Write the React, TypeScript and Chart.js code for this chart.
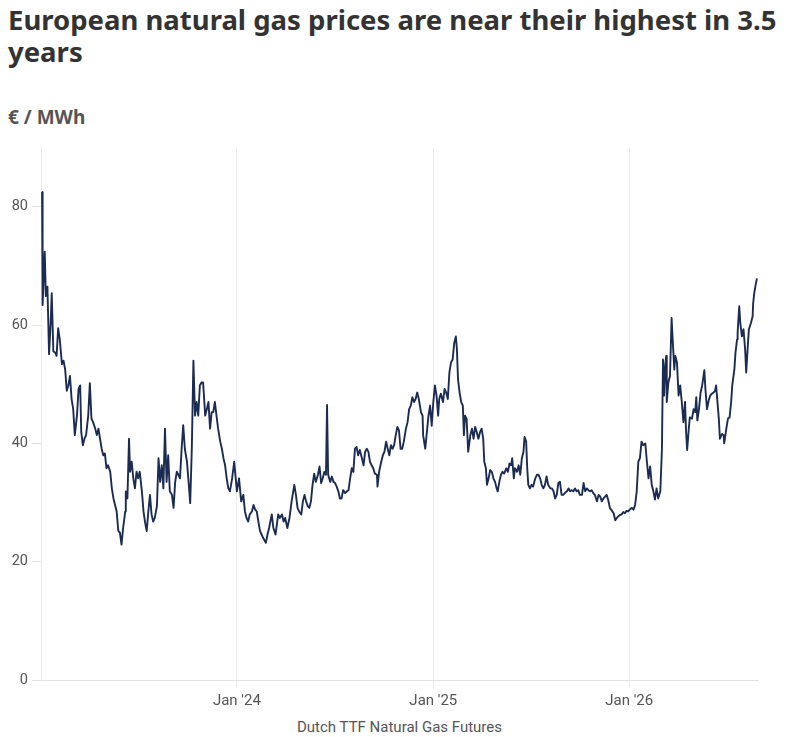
import React, { useEffect, useRef } from "react";
import { Chart, registerables } from "chart.js";

Chart.register(...registerables);

const TITLE_LINE_1 = "European natural gas prices are near their highest in 3.5";
const TITLE_LINE_2 = "years";
const UNIT_LABEL = "€ / MWh";
const SOURCE_LABEL = "Dutch TTF Natural Gas Futures";

const START_DATE = "2023-01-01";
const X_MAX_DAY = 1336;

// days since START_DATE
const dayOffsets = [
  2, 3, 7, 9, 12, 15, 18, 20, 23, 27, 29, 32, 35, 39, 42, 45, 48, 51, 54, 57,
  60, 63, 67, 70, 73, 75, 78, 81, 84, 88, 91, 94, 97, 101, 104, 107, 110, 113, 116, 119,
  122, 125, 129, 132, 135, 138, 141, 144, 147, 150, 153, 157, 158, 161, 164, 166, 169, 172, 175, 178,
  181, 184, 188, 191, 194, 197, 200, 203, 206, 209, 212, 216, 219, 222, 225, 228, 231, 234, 237, 240,
  244, 247, 250, 253, 256, 259, 262, 265, 268, 272, 275, 278, 281, 284, 287, 290, 293, 296, 299, 302,
  306, 309, 312, 315, 318, 321, 324, 327, 330, 334, 337, 340, 343, 346, 349, 352, 356, 360, 365, 369,
  373, 377, 380, 383, 386, 389, 393, 396, 399, 402, 405, 408, 411, 414, 419, 422, 425, 430, 433, 437,
  442, 445, 449, 452, 455, 459, 463, 467, 472, 475, 478, 481, 485, 488, 491, 494, 497, 500, 503, 506,
  509, 512, 516, 519, 522, 525, 528, 531, 533, 535, 539, 542, 545, 548, 551, 554, 557, 560, 563, 567,
  570, 573, 576, 579, 582, 585, 588, 591, 594, 598, 601, 604, 607, 610, 613, 616, 619, 622, 626, 627,
  630, 634, 637, 640, 643, 646, 649, 652, 655, 658, 661, 664, 667, 670, 673, 676, 680, 683, 686, 689,
  692, 695, 698, 701, 704, 708, 711, 712, 716, 719, 722, 725, 728, 731, 734, 737, 740, 742, 745, 749,
  752, 755, 758, 761, 764, 767, 770, 773, 775, 777, 780, 783, 786, 788, 790, 793, 796, 800, 803, 806,
  809, 812, 815, 818, 821, 824, 826, 829, 831, 834, 837, 840, 843, 846, 849, 851, 854, 857, 860, 863,
  867, 870, 873, 876, 878, 881, 883, 887, 890, 893, 896, 899, 901, 904, 906, 908, 911, 914, 917, 921,
  924, 927, 930, 933, 936, 939, 942, 945, 949, 952, 955, 958, 961, 964, 967, 970, 973, 976, 980, 983,
  986, 989, 992, 995, 998, 1001, 1004, 1008, 1011, 1014, 1017, 1020, 1023, 1026, 1029, 1032, 1036, 1039, 1042, 1045,
  1048, 1051, 1054, 1057, 1060, 1064, 1067, 1070, 1073, 1076, 1079, 1082, 1085, 1088, 1091, 1094, 1098, 1101, 1104, 1107,
  1110, 1113, 1116, 1119, 1122, 1126, 1129, 1132, 1135, 1138, 1141, 1144, 1147, 1150, 1154, 1157, 1159, 1161, 1163, 1165,
  1166, 1169, 1172, 1175, 1177, 1180, 1182, 1185, 1188, 1191, 1194, 1197, 1200, 1202, 1204, 1207, 1209, 1213, 1216, 1219,
  1221, 1223, 1226, 1229, 1232, 1236, 1238, 1241, 1244, 1247, 1250, 1253, 1256, 1258, 1260, 1263, 1265, 1269, 1272, 1273,
  1277, 1280, 1283, 1286, 1288, 1292, 1294, 1297, 1298, 1301, 1303, 1306, 1309, 1312, 1314, 1317, 1319, 1323, 1326, 1327,
  1329, 1331, 1334,
];

// € / MWh
const prices = [
  82.5, 63.4, 72.4, 64.9, 66.5, 55.1, 60.4, 65.4, 55.6, 55.3, 54.8, 59.5, 57.6, 53.4, 54.0, 52.5, 48.9, 49.8, 51.4, 47.5,
  45.8, 41.4, 44.7, 49.2, 49.8, 41.9, 39.7, 40.8, 41.4, 44.7, 50.2, 44.2, 43.6, 42.5, 41.4, 42.5, 40.8, 39.1, 38.0, 38.3,
  35.8, 36.3, 35.2, 32.4, 30.7, 29.6, 28.5, 25.2, 24.9, 22.9, 25.7, 28.5, 31.9, 30.7, 40.8, 35.2, 36.9, 34.1, 32.4, 35.2,
  34.1, 35.2, 31.9, 28.5, 26.6, 25.2, 28.5, 31.3, 28.0, 26.8, 27.4, 29.4, 37.5, 33.5, 36.3, 32.4, 42.5, 33.5, 38.0, 31.9,
  31.3, 29.1, 33.5, 35.2, 34.7, 34.1, 39.1, 43.1, 39.1, 36.9, 33.5, 29.9, 39.1, 54.0, 44.7, 47.0, 44.7, 49.8, 50.3, 50.3,
  44.7, 45.8, 47.0, 42.5, 45.3, 45.3, 47.0, 44.7, 42.5, 40.3, 39.1, 37.5, 36.3, 34.1, 32.4, 31.9, 34.0, 36.9, 31.9, 34.1,
  30.2, 31.3, 28.5, 27.4, 26.8, 28.0, 28.5, 29.6, 28.8, 28.5, 26.8, 25.2, 24.6, 24.0, 23.2, 24.6, 25.7, 28.0, 25.7, 24.6,
  28.0, 27.4, 28.0, 26.8, 27.4, 25.7, 27.4, 30.2, 33.0, 31.3, 29.1, 28.5, 28.0, 30.2, 31.3, 30.2, 29.4, 29.1, 30.2, 33.0,
  34.9, 33.5, 34.7, 36.1, 33.3, 34.1, 35.2, 34.7, 46.5, 34.7, 33.5, 34.4, 33.5, 33.3, 32.7, 31.9, 30.7, 30.7, 32.1, 31.6,
  31.9, 32.1, 34.1, 35.8, 35.2, 39.1, 39.4, 38.0, 38.9, 37.5, 36.3, 38.6, 39.1, 38.6, 36.9, 36.3, 35.8, 34.9, 34.7, 32.7,
  35.2, 36.9, 38.0, 38.6, 40.3, 39.1, 38.0, 39.7, 39.1, 39.7, 41.4, 42.8, 42.2, 39.1, 39.1, 40.3, 42.5, 43.6, 45.8, 46.4,
  47.8, 47.0, 47.5, 48.6, 47.5, 45.3, 44.7, 41.4, 39.1, 41.9, 44.7, 46.4, 43.0, 47.0, 49.8, 48.1, 44.7, 47.5, 48.4, 47.0,
  49.2, 48.6, 47.5, 52.0, 53.7, 54.2, 57.0, 58.1, 55.9, 50.9, 48.6, 47.0, 46.4, 41.4, 44.7, 44.2, 38.6, 41.4, 42.5, 40.8,
  42.8, 41.9, 40.8, 41.9, 42.5, 40.8, 36.9, 35.8, 33.0, 34.1, 35.5, 35.2, 34.1, 33.5, 32.4, 31.9, 33.5, 34.7, 35.2, 34.9,
  35.8, 35.2, 36.6, 36.3, 37.5, 34.1, 35.8, 35.2, 36.3, 34.7, 37.5, 38.6, 41.1, 40.3, 35.8, 33.0, 32.4, 33.0, 32.7, 34.1,
  34.7, 34.7, 34.1, 33.0, 32.4, 33.0, 34.4, 33.0, 32.4, 32.4, 31.9, 30.7, 31.3, 33.3, 33.5, 31.3, 31.3, 31.6, 31.9, 32.4,
  31.9, 32.1, 31.9, 32.4, 31.9, 32.1, 31.3, 31.3, 33.3, 31.9, 32.4, 32.1, 31.9, 32.1, 31.6, 31.3, 30.2, 31.3, 31.0, 30.2,
  30.7, 31.0, 31.3, 30.4, 29.1, 28.6, 28.2, 27.0, 27.4, 27.7, 27.9, 28.0, 28.4, 28.2, 28.6, 28.5, 28.9, 29.1, 28.8, 29.6,
  31.9, 36.9, 37.5, 40.3, 39.7, 40.0, 36.9, 34.1, 36.1, 33.0, 31.9, 30.5, 32.4, 30.7, 31.9, 39.1, 54.2, 48.1, 53.1, 54.8,
  47.0, 50.3, 51.4, 61.2, 57.6, 52.5, 54.8, 53.7, 48.1, 49.8, 47.0, 43.6, 47.0, 41.9, 38.9, 42.5, 44.4, 44.2, 45.8, 45.3,
  47.8, 43.9, 45.8, 48.6, 49.8, 52.4, 49.2, 45.8, 47.2, 48.1, 48.4, 48.6, 48.9, 49.8, 47.5, 44.2, 40.8, 41.6, 41.4, 40.0,
  42.5, 44.2, 44.4, 47.0, 49.8, 52.5, 55.3, 57.6, 58.7, 63.2, 60.4, 58.1, 59.3, 55.9, 52.0, 56.5, 59.3, 60.4, 61.5, 63.7,
  65.4, 66.5, 67.9,
];

const Y_MAX = 90;
const yTickValues = [0, 20, 40, 60, 80];
const xTickYears = [2024, 2025, 2026];
const xTickLabels = ["Jan '24", "Jan '25", "Jan '26"];

const LINE_COLOR = "#1b2b52";
const AXIS_TEXT = "#555555";

export default function App() {
  const canvasRef = useRef<HTMLCanvasElement | null>(null);

  useEffect(() => {
    const canvas = canvasRef.current;
    if (!canvas) return;
    const startMs = Date.parse(START_DATE);
    const tickDays = xTickYears.map((y) => Math.round((Date.UTC(y, 0, 1) - startMs) / 86400000));
    const points = dayOffsets.map((d, i) => ({ x: d, y: prices[i] }));

    const chart = new Chart(canvas, {
      type: "line",
      data: {
        datasets: [
          {
            data: points,
            borderColor: LINE_COLOR,
            borderWidth: 1.9,
            pointRadius: 0,
            tension: 0,
            fill: false,
            borderJoinStyle: "round",
          },
        ],
      },
      options: {
        animation: false,
        responsive: false,
        layout: { padding: { top: 10, right: 34, bottom: 0, left: 0 } },
        plugins: { legend: { display: false }, tooltip: { enabled: false } },
        scales: {
          x: {
            type: "linear",
            min: 0,
            max: X_MAX_DAY,
            afterBuildTicks: (s: any) => {
              s.ticks = tickDays.map((v) => ({ value: v }));
            },
            afterFit: (s: any) => {
              s.height = 35;
            },
            ticks: {
              autoSkip: false,
              maxRotation: 0,
              padding: 4,
              color: AXIS_TEXT,
              font: { family: "Roboto", size: 15 },
              callback: (v: any) => {
                const i = tickDays.indexOf(Number(v));
                return i >= 0 ? xTickLabels[i] : "";
              },
            },
            grid: { drawOnChartArea: true, drawTicks: true, tickLength: 8, color: "#ebebeb", lineWidth: 1 },
            border: { display: true, color: "#e2e2e2", width: 1 },
          },
          y: {
            min: 0,
            max: Y_MAX,
            afterBuildTicks: (s: any) => {
              s.ticks = yTickValues.map((v) => ({ value: v }));
            },
            afterFit: (s: any) => {
              s.width = 33;
            },
            ticks: {
              padding: 4,
              color: AXIS_TEXT,
              font: { family: "Roboto", size: 14.5 },
            },
            grid: { drawOnChartArea: false, drawTicks: true, tickLength: 9, color: "#e2e2e2" },
            border: { display: true, color: "#ebebeb", width: 1 },
          },
        },
      },
    } as any);

    return () => chart.destroy();
  }, []);

  return (
    <div
      style={{
        position: "fixed",
        left: 0,
        top: 0,
        width: 800,
        height: 737,
        overflow: "hidden",
        background: "#ffffff",
      }}
    >
      <div
        style={{
          position: "absolute",
          left: 8,
          top: 4,
          fontFamily: "'Noto Sans', 'Open Sans', sans-serif",
          fontWeight: 700,
          fontSize: 27.5,
          lineHeight: "32px",
          color: "#333333",
          whiteSpace: "nowrap",
        }}
      >
        {TITLE_LINE_1}
        <br />
        {TITLE_LINE_2}
      </div>
      <div
        style={{
          position: "absolute",
          left: 8,
          top: 108,
          fontFamily: "'Noto Sans', 'Open Sans', sans-serif",
          fontWeight: 700,
          fontSize: 19,
          lineHeight: "19px",
          color: "#555555",
          whiteSpace: "nowrap",
        }}
      >
        {UNIT_LABEL}
      </div>
      <div style={{ position: "absolute", left: 8, top: 135, width: 784, height: 580 }}>
        <canvas ref={canvasRef} width={784} height={580} style={{ width: 784, height: 580, display: "block" }} />
      </div>
      <div
        style={{
          position: "absolute",
          left: 41,
          top: 720,
          width: 717,
          textAlign: "center",
          fontFamily: "Roboto, sans-serif",
          fontSize: 15,
          lineHeight: "15px",
          color: AXIS_TEXT,
          whiteSpace: "nowrap",
        }}
      >
        {SOURCE_LABEL}
      </div>
    </div>
  );
}
